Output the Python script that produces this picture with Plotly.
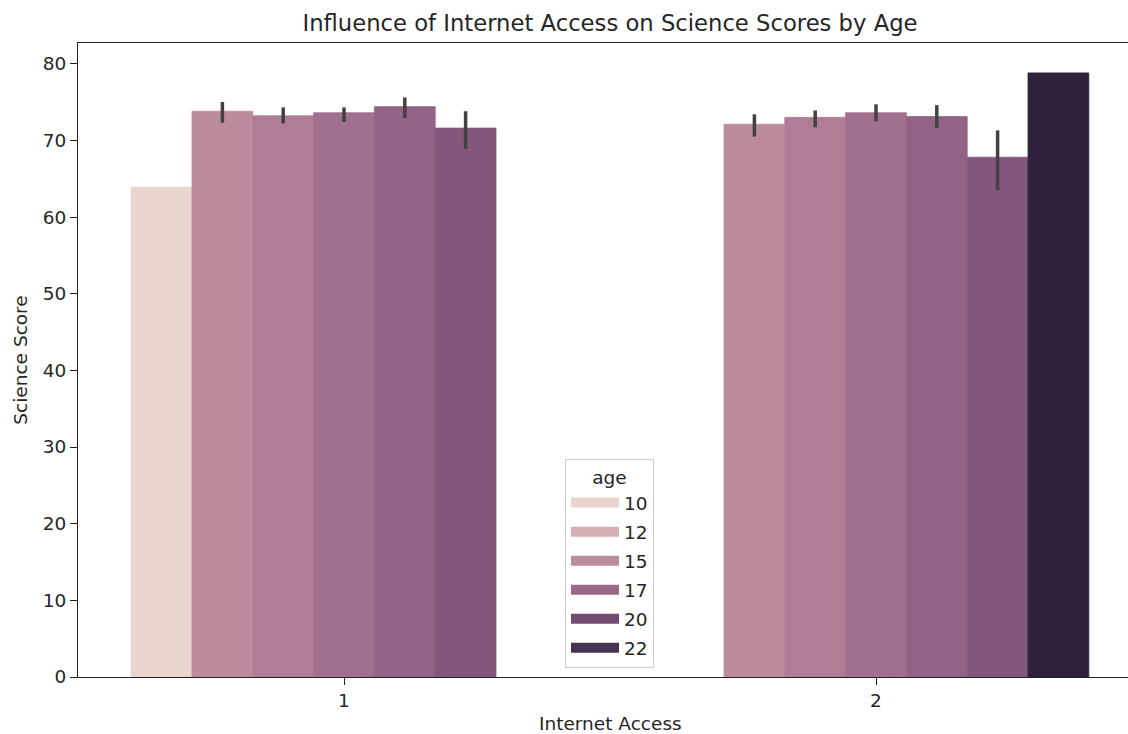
import colorsys
import math

import plotly.graph_objects as go

# ---- data -------------------------------------------------------------
internet_access = [1, 2]
ages = [10, 15, 16, 17, 18, 19, 24]

# mean science score per age, for internet access = 1 and = 2 (None: no students)
mean_access1 = [63.9, 73.8, 73.2, 73.6, 74.4, 71.6, None]
mean_access2 = [None, 72.1, 73.0, 73.6, 73.1, 67.8, 78.8]

# 95% confidence interval bounds (None: single student, no interval)
ci_low_access1 = [None, 72.3, 72.2, 72.4, 72.9, 68.9, None]
ci_high_access1 = [None, 75.0, 74.3, 74.3, 75.6, 73.8, None]
ci_low_access2 = [None, 70.5, 71.7, 72.5, 71.6, 63.5, None]
ci_high_access2 = [None, 73.4, 73.9, 74.7, 74.6, 71.3, None]

# values shown in the (brief) age legend
legend_ticks = [10, 12.5, 15, 17.5, 20, 22.5]

# ---- colour mapping (seaborn-style cubehelix for a numeric hue) -------
def cubehelix(x, start=0.0, rot=0.4, gamma=1.0, hue=0.8):
    xg = x ** gamma
    a = hue * xg * (1 - xg) / 2
    phi = 2 * math.pi * (start / 3 + rot * x)
    r = xg + a * (-0.14861 * math.cos(phi) + 1.78277 * math.sin(phi))
    g = xg + a * (-0.29227 * math.cos(phi) - 0.90649 * math.sin(phi))
    b = xg + a * (1.97294 * math.cos(phi))
    return [min(max(c, 0.0), 1.0) for c in (r, g, b)]


def hue_color(age, lo=min(ages), hi=max(ages), light=0.85, dark=0.15, sat=0.75):
    t = (age - lo) / (hi - lo)
    rgb = cubehelix(light + (dark - light) * t)
    h, l, s = colorsys.rgb_to_hls(*rgb)
    rgb = colorsys.hls_to_rgb(h, l, s * sat)
    return "rgb({:.0f},{:.0f},{:.0f})".format(*(255 * c for c in rgb))


TEXT = "#262626"
FONT = "DejaVu Sans"

fig = go.Figure()

# ---- grouped bars with confidence intervals ---------------------------
for i, age in enumerate(ages):
    means = [mean_access1[i], mean_access2[i]]
    lows = [ci_low_access1[i], ci_low_access2[i]]
    highs = [ci_high_access1[i], ci_high_access2[i]]
    plus = [h - m if (h is not None and m is not None) else None for h, m in zip(highs, means)]
    minus = [m - l if (l is not None and m is not None) else None for l, m in zip(lows, means)]
    color = hue_color(age)
    bar = dict(
        x=internet_access,
        y=means,
        name=str(age),
        marker=dict(color=color, line=dict(width=0.8, color=color)),
        showlegend=False,
        hovertemplate="age %s<br>Internet Access %%{x}<br>Science Score %%{y:.1f}<extra></extra>" % age,
    )
    if any(p is not None for p in plus):
        bar["error_y"] = dict(
            type="data",
            symmetric=False,
            array=plus,
            arrayminus=minus,
            color="#424242",
            thickness=3.5,
            width=0,
        )
    fig.add_trace(go.Bar(**bar))

# ---- legend entries ---------------------------------------------------
for k, v in enumerate(legend_ticks):
    fig.add_trace(
        go.Scatter(
            x=[None],
            y=[None],
            mode="lines",
            name=str(int(v)),
            legendgroup="g%d" % k,
            line=dict(color=hue_color(v), width=12),
            hoverinfo="skip",
        )
    )

# ---- layout -----------------------------------------------------------
W, H = 1128, 734
L, R, T, B = 78, 0, 43, 57

fig.update_layout(
    width=W,
    height=H,
    margin=dict(l=L, r=R, t=T, b=B),
    paper_bgcolor="white",
    plot_bgcolor="white",
    barmode="group",
    bargap=0.2,
    bargroupgap=0,
    font=dict(family=FONT, size=18.5, color=TEXT),
    title=dict(
        text="Influence of Internet Access on Science Scores by Age",
        font=dict(family=FONT, size=22.7, color=TEXT),
        xref="paper",
        x=(610 - L) / (W - L - R),
        xanchor="center",
        yref="container",
        y=1 - 23 / H,
        yanchor="middle",
    ),
    xaxis=dict(
        range=[0.5, 0.5 + (W - L - R) / 532],
        tickmode="array",
        tickvals=internet_access,
        ticktext=[str(v) for v in internet_access],
        showgrid=False,
        zeroline=False,
        showline=True,
        linecolor="#222",
        linewidth=1.2,
        mirror=True,
        ticks="outside",
        ticklen=7,
        tickwidth=1.2,
        tickcolor="#222",
        tickfont=dict(family=FONT, size=18.5, color=TEXT),
    ),
    yaxis=dict(
        range=[0, 82.7],
        tickmode="array",
        tickvals=[0, 10, 20, 30, 40, 50, 60, 70, 80],
        showgrid=False,
        zeroline=False,
        showline=True,
        linecolor="#222",
        linewidth=1.2,
        ticks="outside",
        ticklen=7,
        tickwidth=1.2,
        tickcolor="#222",
        tickfont=dict(family=FONT, size=18.5, color=TEXT),
        title=dict(text="Science Score", font=dict(family=FONT, size=18.5, color=TEXT), standoff=10),
    ),
    legend=dict(
        title=dict(text="age", side="top center", font=dict(family=FONT, size=18.5, color=TEXT)),
        x=(609.5 - L) / (W - L - R),
        xanchor="center",
        y=(677 - 668) / (H - T - B),
        yanchor="bottom",
        bgcolor="rgba(255,255,255,0.8)",
        bordercolor="#cccccc",
        borderwidth=1,
        tracegroupgap=2,
        itemwidth=48,
        font=dict(family=FONT, size=18.5, color=TEXT),
    ),
    annotations=[
        dict(
            text="Internet Access",
            xref="paper",
            yref="paper",
            x=(610 - L) / (W - L - R),
            y=(677 - 723) / (H - T - B),
            xanchor="center",
            yanchor="middle",
            showarrow=False,
            font=dict(family=FONT, size=18.5, color=TEXT),
        )
    ],
)

fig.write_html("out.html")
